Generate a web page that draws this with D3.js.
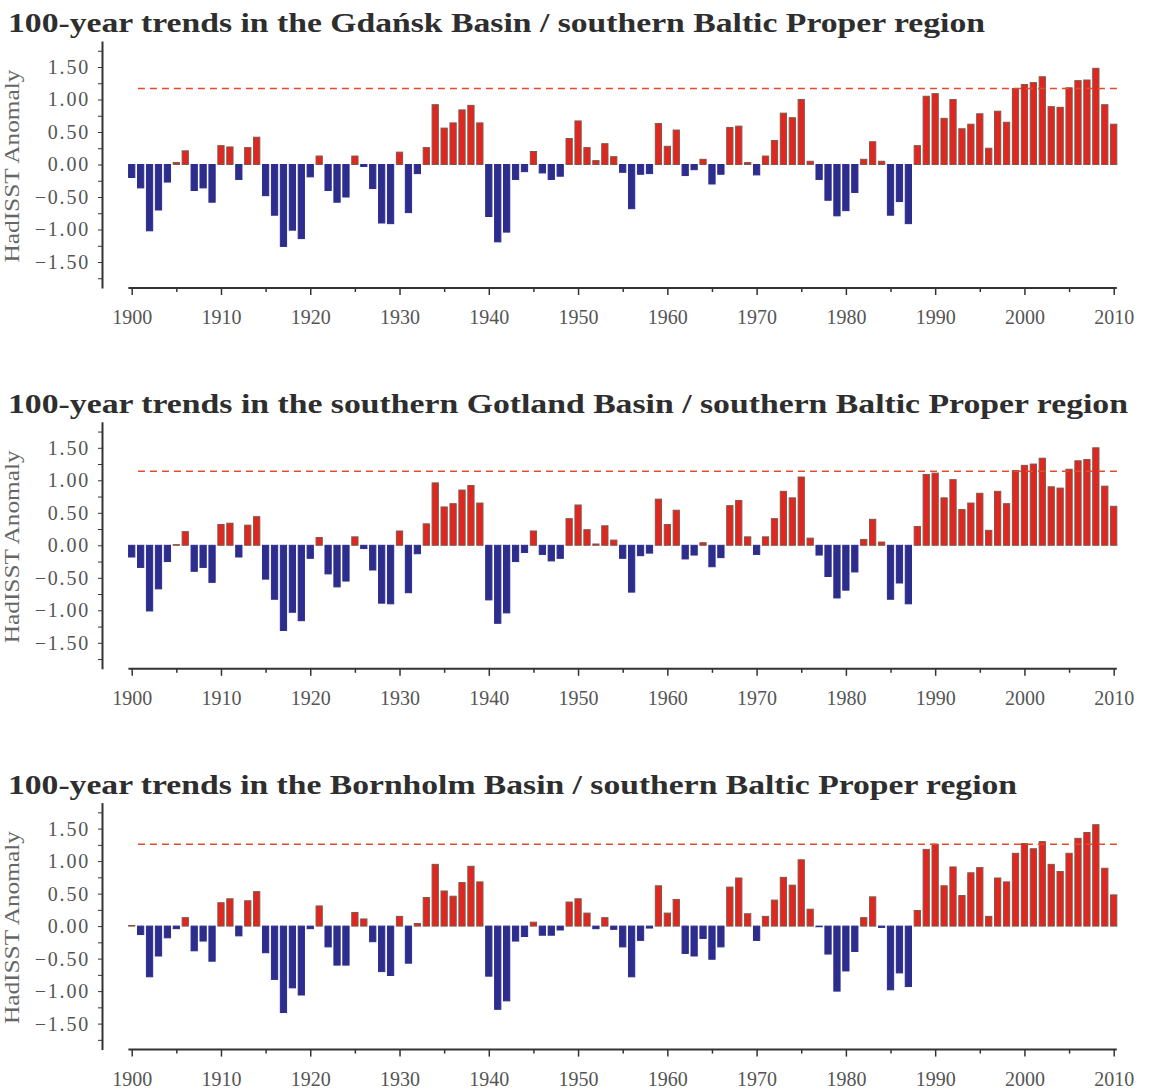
<!DOCTYPE html>
<html>
<head>
<meta charset="utf-8">
<script src="https://cdn.jsdelivr.net/npm/d3@7"></script>
<style>
  body { margin: 0; background: #fff; }
  svg { display: block; }
  .axis text { font-family: "Liberation Serif", "Times New Roman", serif; fill: #555; }
  .axis path, .axis line { stroke: #333; }
  .title { font-family: "Liberation Serif", "Times New Roman", serif; font-weight: bold; fill: #2e2e2e; }
  .ylabel { font-family: "Liberation Serif", "Times New Roman", serif; fill: #666; }
</style>
</head>
<body>
<div id="chart"></div>
<script>
const years = d3.range(1900, 2011);

const gdansk = [
  -0.20, -0.36, -1.02, -0.70, -0.27, 0.03, 0.21, -0.40, -0.36, -0.58,
  0.29, 0.27, -0.23, 0.26, 0.42, -0.48, -0.78, -1.26, -1.01, -1.14,
  -0.19, 0.13, -0.40, -0.58, -0.50, 0.13, -0.03, -0.37, -0.90, -0.91,
  0.19, -0.74, -0.14, 0.26, 0.92, 0.56, 0.64, 0.84, 0.91, 0.64,
  -0.80, -1.19, -1.04, -0.23, -0.11, 0.20, -0.13, -0.23, -0.18, 0.40,
  0.67, 0.26, 0.06, 0.32, 0.12, -0.12, -0.68, -0.15, -0.14, 0.63,
  0.28, 0.53, -0.17, -0.08, 0.08, -0.30, -0.15, 0.57, 0.59, 0.03,
  -0.16, 0.13, 0.37, 0.79, 0.72, 1.00, 0.05, -0.23, -0.55, -0.79,
  -0.71, -0.43, 0.08, 0.35, 0.05, -0.78, -0.57, -0.91, 0.29, 1.05,
  1.09, 0.71, 1.00, 0.55, 0.62, 0.78, 0.25, 0.82, 0.65, 1.17,
  1.23, 1.26, 1.35, 0.89, 0.88, 1.18, 1.29, 1.30, 1.48, 0.92, 0.62
];

const gotland = [
  -0.18, -0.34, -1.01, -0.67, -0.25, 0.01, 0.21, -0.40, -0.34, -0.57,
  0.32, 0.34, -0.18, 0.31, 0.44, -0.52, -0.83, -1.31, -1.03, -1.16,
  -0.20, 0.12, -0.44, -0.64, -0.55, 0.13, -0.05, -0.38, -0.89, -0.90,
  0.22, -0.73, -0.13, 0.33, 0.96, 0.59, 0.64, 0.85, 0.92, 0.65,
  -0.84, -1.20, -1.04, -0.25, -0.11, 0.22, -0.14, -0.24, -0.20, 0.41,
  0.62, 0.24, 0.02, 0.30, 0.08, -0.20, -0.72, -0.16, -0.12, 0.71,
  0.32, 0.54, -0.21, -0.15, 0.04, -0.33, -0.19, 0.61, 0.69, 0.13,
  -0.14, 0.13, 0.41, 0.83, 0.73, 1.05, 0.11, -0.15, -0.48, -0.81,
  -0.69, -0.41, 0.09, 0.40, 0.05, -0.83, -0.58, -0.90, 0.29, 1.09,
  1.11, 0.73, 1.01, 0.55, 0.65, 0.80, 0.23, 0.83, 0.64, 1.15,
  1.23, 1.25, 1.34, 0.90, 0.88, 1.17, 1.30, 1.32, 1.50, 0.91, 0.60
];

const bornholm = [
  0.01, -0.13, -0.78, -0.46, -0.18, -0.04, 0.13, -0.38, -0.23, -0.54,
  0.36, 0.42, -0.15, 0.39, 0.53, -0.41, -0.82, -1.33, -0.95, -1.06,
  -0.04, 0.31, -0.32, -0.60, -0.60, 0.21, 0.11, -0.24, -0.70, -0.76,
  0.15, -0.57, 0.04, 0.44, 0.95, 0.54, 0.46, 0.67, 0.92, 0.68,
  -0.77, -1.28, -1.15, -0.23, -0.16, 0.06, -0.14, -0.14, -0.06, 0.37,
  0.42, 0.20, -0.04, 0.13, -0.05, -0.32, -0.78, -0.22, -0.03, 0.62,
  0.20, 0.41, -0.42, -0.46, -0.19, -0.51, -0.32, 0.60, 0.74, 0.19,
  -0.22, 0.15, 0.40, 0.75, 0.63, 1.02, 0.26, -0.01, -0.43, -1.00,
  -0.69, -0.39, 0.13, 0.45, -0.02, -0.98, -0.72, -0.93, 0.24, 1.18,
  1.26, 0.62, 0.91, 0.47, 0.82, 0.90, 0.15, 0.74, 0.68, 1.12,
  1.27, 1.19, 1.30, 0.95, 0.84, 1.12, 1.35, 1.44, 1.56, 0.89, 0.48
];

const titles = [
  '100-year trends in the Gdańsk Basin / southern Baltic Proper region',
  '100-year trends in the southern Gotland Basin / southern Baltic Proper region',
  '100-year trends in the Bornholm Basin / southern Baltic Proper region'
];
const thresholds = [1.17, 1.14, 1.26];
const yTicks = [-1.75, -1.5, -1.25, -1, -0.75, -0.5, -0.25, 0, 0.25, 0.5, 0.75, 1, 1.25, 1.5, 1.75];
const yLabelled = [-1.5, -1, -0.5, 0, 0.5, 1, 1.5];
const xMajorTicks = [1900, 1910, 1920, 1930, 1940, 1950, 1960, 1970, 1980, 1990, 2000, 2010];
const xMinorTicks = [1905, 1915, 1925, 1935, 1945, 1955, 1965, 1975, 1985, 1995, 2005];

document.addEventListener('DOMContentLoaded', function(){
  const width = 1152
  const height = 1091
  const svg = d3.select('#chart').append('svg').attr('width', width).attr('height', height);

  const series = [gdansk, gotland, bornholm];
  const titleWidths = [977, 1120, 1009];
  series.forEach(function(values, i) {
    drawPanel(svg, values, i, titleWidths[i]);
  });
});

function drawPanel(svg, values, i, titleWidth) {
  const panelStep = 380.8
  const g = svg.append('g').attr('transform', 'translate(0,' + (i * panelStep) + ')');
  const data = years.map((yr, k) => ({year: yr, value: values[k]}));

  const x = d3.scaleLinear().domain([1900, 2010]).range([131.7, 1113.7]);
  const step = x(1901) - x(1900);
  const xb = d3.scaleBand()
    .domain(years)
    .range([x(1900) - step / 2, x(2010) + step / 2])
    .paddingInner(0.3)
    .paddingOuter(0.15);
  const y = d3.scaleLinear().domain([-1.9, 1.9]).range([288, 41]);

  // title
  g.append('text')
    .attr('class', 'title')
    .attr('x', 8)
    .attr('y', 32)
    .attr('font-size', 27)
    .attr('textLength', titleWidth)
    .attr('lengthAdjust', 'spacingAndGlyphs')
    .text(titles[i]);

  // y axis
  const yAxis = d3.axisLeft(y)
    .tickValues(yTicks)
    .tickSize(4)
    .tickSizeOuter(0)
    .tickPadding(8)
    .tickFormat(d => yLabelled.includes(d) ? d3.format('.2f')(d) : '');
  g.append('g')
    .attr('class', 'axis y')
    .attr('transform', 'translate(102,0)')
    .call(yAxis)
    .call(a => a.select('.domain').attr('stroke-width', 2))
    .call(a => a.selectAll('text').attr('font-size', 20).attr('letter-spacing', 1.8));

  g.append('text')
    .attr('class', 'ylabel')
    .attr('transform', 'translate(19,' + 166 + ') rotate(-90)')
    .attr('text-anchor', 'middle')
    .attr('font-size', 21)
    .attr('textLength', 193)
    .attr('lengthAdjust', 'spacingAndGlyphs')
    .text('HadISST Anomaly');

  // x axis
  const xAxisG = g.append('g')
    .attr('class', 'axis x')
    .attr('transform', 'translate(0,' + y(-1.9) + ')');
  xAxisG.append('g')
    .call(d3.axisBottom(x).tickValues(xMajorTicks).tickSize(7).tickPadding(15).tickFormat(d3.format('d')))
    .call(a => a.select('.domain').remove())
    .call(a => a.selectAll('line').attr('stroke-width', 1.5))
    .call(a => a.selectAll('text').attr('font-size', 20));
  xAxisG.append('g')
    .call(d3.axisBottom(x).tickValues(xMinorTicks).tickSize(4).tickFormat(''))
    .call(a => a.select('.domain').remove())
    .call(a => a.selectAll('line').attr('stroke-width', 1.5));
  xAxisG.append('line')
    .attr('x1', x(1899.63))
    .attr('x2', x(2010.35))
    .attr('stroke', '#333')
    .attr('stroke-width', 2);

  // bars
  g.append('g')
    .attr('class', 'bars')
    .selectAll('.bar')
    .data(data)
    .enter()
    .append('rect')
    .attr('class', 'bar')
    .attr('x', d => xb(d.year))
    .attr('width', xb.bandwidth())
    .attr('y', d => y(Math.max(0, d.value)))
    .attr('height', d => Math.abs(y(d.value) - y(0)))
    .attr('fill', d => d.value >= 0 ? '#e2261f' : '#2d2d8e')
    .attr('stroke', d => d.value >= 0 ? '#7b5a4c' : '#2d2d8e')
    .attr('stroke-width', 1);

  // threshold line
  g.append('line')
    .attr('class', 'threshold')
    .attr('x1', x(1900.7))
    .attr('x2', x(2010.5))
    .attr('y1', y(thresholds[i]))
    .attr('y2', y(thresholds[i]))
    .attr('stroke', '#e64a2e')
    .attr('stroke-width', 1.5)
    .attr('stroke-dasharray', '7,5');
}
</script>
</body>
</html>
